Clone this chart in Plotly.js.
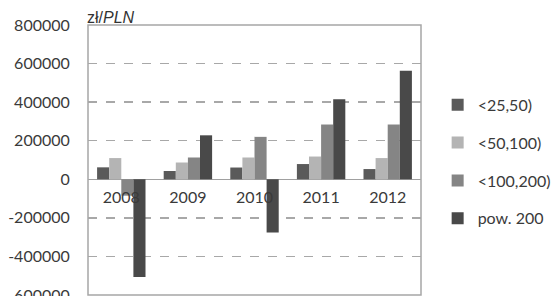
<!DOCTYPE html>
<html>
<head>
<meta charset="utf-8">
<script src="https://cdn.plot.ly/plotly-3.0.1.min.js"></script>
<style>html,body{margin:0;padding:0;background:#fff;}#chart{width:557px;height:296px;}</style>
</head>
<body>
<div id="chart"></div>
<script>
const years = ['2008', '2009', '2010', '2011', '2012'];
const seriesNames = ['<25,50)', '<50,100)', '<100,200)', 'pow. 200'];
const s25_50 = [62000, 43000, 61000, 79000, 53000];
const s50_100 = [110000, 87000, 113000, 118000, 110000];
const s100_200 = [-85000, 113000, 220000, 284000, 284000];
const sPow200 = [-507000, 228000, -276000, 415000, 563000];
const yTicks = [-600000, -400000, -200000, 0, 200000, 400000, 600000, 800000];

const colors = ['#5a5a5a', '#b4b4b4', '#858585', '#494949'];
const allSeries = [s25_50, s50_100, s100_200, sPow200];

const traces = allSeries.map((vals, i) => ({
  type: 'bar',
  name: seriesNames[i],
  x: years,
  y: vals,
  legendgroup: 'g' + i,
  marker: {color: colors[i], line: {width: 0}},
  hoverinfo: 'skip'
}));

const font = {family: 'Lato, sans-serif', size: 16, color: '#3a3a3a'};

const layout = {
  width: 557,
  height: 296,
  margin: {l: 88, r: 125, t: 25, b: 1, pad: 0},
  paper_bgcolor: '#fff',
  plot_bgcolor: '#fff',
  font: font,
  barmode: 'group',
  bargap: 0.273,
  bargroupgap: 0,
  showlegend: true,
  title: {
    text: 'zł/<i>PLN</i>',
    x: 87 / 557, xanchor: 'left', xref: 'container',
    y: 1 - 17.5 / 296, yanchor: 'middle', yref: 'container',
    font: {family: 'Liberation Sans, Arial, sans-serif', size: 16, color: '#333'}
  },
  legend: {
    x: 1.05, xanchor: 'left',
    y: 0.767, yanchor: 'top',
    traceorder: 'grouped',
    tracegroupgap: 14,
    font: font,
    bgcolor: 'rgba(0,0,0,0)'
  },
  xaxis: {
    type: 'category',
    anchor: 'free',
    position: 600000 / 1400000,
    showline: false,
    showgrid: false,
    zeroline: false,
    ticks: 'outside',
    ticklen: 4,
    tickcolor: 'rgba(0,0,0,0)',
    tickfont: font
  },
  yaxis: {
    range: [-600000, 800000],
    tickvals: yTicks,
    ticktext: yTicks.map(String),
    ticklabeloverflow: 'allow',
    showgrid: true,
    gridcolor: '#a8a8a8',
    gridwidth: 1.5,
    griddash: 'dash',
    zeroline: true,
    zerolinecolor: '#a0a0a0',
    zerolinewidth: 1.5,
    showline: false,
    ticks: 'outside',
    ticklen: 14,
    tickcolor: 'rgba(0,0,0,0)',
    tickfont: font,
    fixedrange: true
  },
  shapes: [{
    type: 'rect', xref: 'paper', yref: 'paper',
    x0: 0, x1: 1, y0: 0, y1: 1,
    line: {color: '#a6a6a6', width: 1.5},
    layer: 'above'
  }]
};

Plotly.newPlot('chart', traces, layout, {staticPlot: true, displayModeBar: false});
</script>
</body>
</html>
